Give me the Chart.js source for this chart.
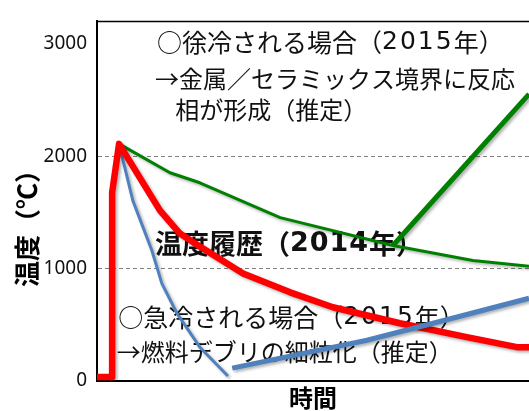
<!DOCTYPE html>
<html lang="ja">
<head>
<meta charset="utf-8">
<script src="https://cdn.jsdelivr.net/npm/chart.js@4"></script>
<style>
  html, body { margin: 0; padding: 0; background: #fff; }
  #wrap { position: relative; width: 529px; height: 411px; }
</style>
</head>
<body>
<div id="wrap"><canvas id="temp-chart"></canvas></div>
<script>
// 時間軸は相対値（0〜100）、温度は ℃
// 温度履歴（2014年）
const redTime = [0, 3.5, 3.5, 5.1, 14.6, 19.2, 23.8, 33.8, 44.7, 54.6, 70.1, 85.6, 97.2, 100];
const redTemp = [35, 35, 1676, 2110, 1516, 1312, 1197, 957, 789, 656, 514, 390, 301, 301];

// 徐冷される場合
const slowTime = [5.1, 16.9, 23.8, 42.4, 68.5, 87.0, 100];
const slowTemp = [2110, 1853, 1764, 1454, 1206, 1073, 1020];
const slowRiseTime = [68.5, 100];
const slowRiseTemp = [1206, 2553];

// 急冷される場合
const fastTime = [5.1, 8.3, 12.7, 15.0, 18.5, 23.8, 30.3];
const fastTemp = [2110, 1605, 1161, 869, 603, 301, 44];
const fastRiseTime = [31.3, 62.5, 77.8, 100];
const fastRiseTemp = [115, 363, 514, 736];

// 縦軸目盛り
const yTicks = [0, 1000, 2000, 3000];
const yGrid = [1000, 2000];

// 注記テキスト（位置はデータ座標）
const notes = [
    { text: '○徐冷される場合（2015年）', x: 13.9, y: 3010, size: 25, bold: false },
    { text: '→金属／セラミックス境界に反応', x: 13.4, y: 2690, size: 24, bold: false },
    { text: '相が形成（推定）', x: 18.1, y: 2410, size: 24, bold: false },
    { text: '温度履歴（2014年）', x: 13.4, y: 1223, size: 27, bold: true },
    { text: '○急冷される場合（2015年）', x: 4.9, y: 565, size: 25, bold: false },
    { text: '→燃料デブリの細粒化（推定）', x: 4.6, y: 262, size: 24, bold: false }
];

const toPoints = (xs, ys) => xs.map((x, i) => ({ x: x, y: ys[i] }));

const RED = '#ff0000';
const GREEN = '#008000';
const BLUE = '#4f81bd';

// 数字だけ別フォントで描く
function drawRich(ctx, str, x, y, size, bold) {
    const weight = bold ? 'bold ' : '';
    const runs = str.split(/(\d+)/).filter(s => s.length);
    let cx = x;
    runs.forEach(run => {
        const isNum = /^\d+$/.test(run);
        ctx.font = weight + size + 'px ' + (isNum ? '"DejaVu Sans"' : '"Noto Sans CJK JP"');
        ctx.letterSpacing = isNum ? (bold ? '1px' : '2px') : '0px';
        ctx.fillText(run, cx, y);
        cx += ctx.measureText(run).width;
    });
    ctx.letterSpacing = '0px';
}

const decorPlugin = {
    id: 'decor',
    beforeDatasetsDraw(chart) {
        const { ctx, scales } = chart;
        ctx.save();
        ctx.fillStyle = '#111';
        ctx.textAlign = 'left';
        ctx.textBaseline = 'middle';
        notes.forEach(n => {
            drawRich(ctx, n.text, scales.x.getPixelForValue(n.x), scales.y.getPixelForValue(n.y), n.size, n.bold);
        });
        ctx.restore();
        // 線の影
        ctx.save();
        ctx.shadowColor = 'rgba(0,0,0,0.3)';
        ctx.shadowBlur = 3;
        ctx.shadowOffsetX = 2;
        ctx.shadowOffsetY = 2;
    },
    afterDatasetsDraw(chart) {
        chart.ctx.restore();
    },
    afterDraw(chart) {
        const { ctx, chartArea } = chart;
        ctx.save();
        // 上枠
        ctx.strokeStyle = '#000';
        ctx.lineWidth = 1.5;
        ctx.beginPath();
        ctx.moveTo(chartArea.left, chartArea.top);
        ctx.lineTo(chartArea.right, chartArea.top);
        ctx.stroke();
        // 縦軸タイトル
        ctx.translate(27, 222);
        ctx.rotate(-Math.PI / 2);
        ctx.fillStyle = '#000';
        ctx.textAlign = 'center';
        ctx.textBaseline = 'middle';
        ctx.font = 'bold 26px "Noto Sans CJK JP"';
        ctx.fillText('温度（℃）', 0, 0);
        ctx.restore();
    }
};

const line = (data, color, width) => ({
    data: data,
    borderColor: color,
    borderWidth: width,
    pointRadius: 0,
    fill: false,
    tension: 0,
    borderJoinStyle: 'round',
    borderCapStyle: 'butt'
});

new Chart(document.getElementById('temp-chart'), {
    type: 'line',
    data: {
        datasets: [
            line(toPoints(fastRiseTime, fastRiseTemp), BLUE, 5),
            line(toPoints(redTime, redTemp), RED, 6.5),
            line(toPoints(slowTime, slowTemp), GREEN, 3),
            line(toPoints(slowRiseTime, slowRiseTemp), GREEN, 5),
            line(toPoints(fastTime, fastTemp), BLUE, 3)
        ]
    },
    options: {
        responsive: true,
        maintainAspectRatio: false,
        animation: false,
        layout: { padding: { top: 20, left: 0, right: 0, bottom: 0 } },
        plugins: {
            legend: { display: false },
            tooltip: { enabled: false }
        },
        scales: {
            x: {
                type: 'linear',
                min: 0,
                max: 100,
                ticks: { display: false },
                grid: { display: false },
                border: { color: '#000', width: 2 },
                title: {
                    display: true,
                    text: '時間',
                    color: '#000',
                    font: { family: '"Noto Sans CJK JP"', size: 24, weight: 'bold', lineHeight: 1.1 },
                    padding: 0
                },
                afterFit(scale) { scale.height = 30; }
            },
            y: {
                min: 0,
                max: 3200,
                afterBuildTicks(scale) {
                    scale.ticks = yTicks.map(v => ({ value: v }));
                },
                ticks: {
                    color: '#111',
                    padding: 10,
                    font: { family: '"Noto Sans"', size: 19 },
                    callback: v => String(v)
                },
                grid: {
                    drawTicks: false,
                    lineWidth: 1,
                    color: c => yGrid.includes(c.tick && c.tick.value) ? '#808080' : 'rgba(0,0,0,0)'
                },
                border: { color: '#000', width: 2, dash: [4, 3] },
                afterFit(scale) { scale.width = 97; }
            }
        }
    },
    plugins: [decorPlugin]
});
</script>
</body>
</html>
